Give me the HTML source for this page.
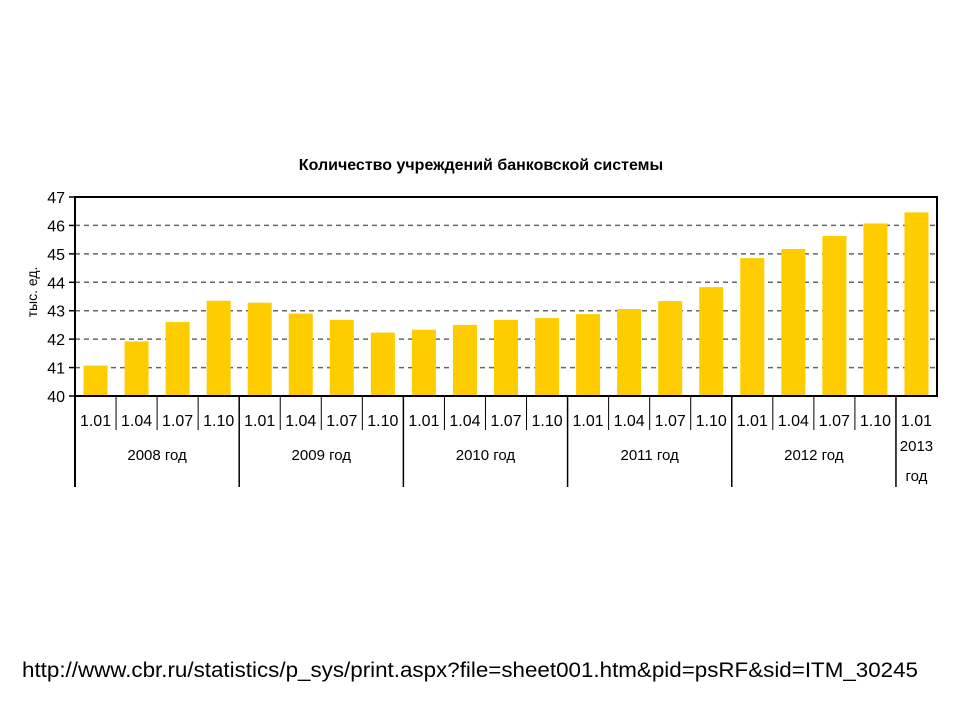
<!DOCTYPE html>
<html><head><meta charset="utf-8"><style>
body{margin:0;background:#fff;width:960px;height:720px;overflow:hidden;font-family:"Liberation Sans",sans-serif}
</style></head><body>
<svg width="960" height="720" xmlns="http://www.w3.org/2000/svg">
<text x="481" y="170" text-anchor="middle" font-size="16" font-weight="bold" font-family="Liberation Sans, sans-serif">Количество учреждений банковской системы</text>
<text transform="translate(37,292) rotate(-90)" text-anchor="middle" font-size="14" font-family="Liberation Sans, sans-serif">тыс. ед.</text>
<g id="grid"></g><g id="bars"></g><g id="axes"></g>
<text x="22" y="677" font-size="21" textLength="896" lengthAdjust="spacingAndGlyphs" font-family="Liberation Sans, sans-serif">http://www.cbr.ru/statistics/p_sys/print.aspx?file=sheet001.htm&amp;pid=psRF&amp;sid=ITM_30245</text>
</svg>
<script>
const categories=["1.01","1.04","1.07","1.10","1.01","1.04","1.07","1.10","1.01","1.04","1.07","1.10","1.01","1.04","1.07","1.10","1.01","1.04","1.07","1.10","1.01"];
const values=[41.07,41.92,42.6,43.35,43.28,42.9,42.68,42.23,42.33,42.5,42.68,42.74,42.88,43.06,43.34,43.83,44.85,45.17,45.63,46.07,46.46];
const years=["2008 год","2009 год","2010 год","2011 год","2012 год","2013 год"];
const yearStarts=[0,4,8,12,16,20];
const yTicks=[40,41,42,43,44,45,46,47];
const NS="http://www.w3.org/2000/svg";
const X0=75,X1=937,Y0=396,Y1=197,YMIN=40,YMAX=47;
const bw=(X1-X0)/categories.length;
const xs=i=>X0+bw*i, ys=v=>Y0-(v-YMIN)/(YMAX-YMIN)*(Y0-Y1);
function mk(t,a,p){const e=document.createElementNS(NS,t);for(const k in a)e.setAttribute(k,a[k]);p.appendChild(e);return e;}
const grid=document.getElementById('grid'),bars=document.getElementById('bars'),axes=document.getElementById('axes');
yTicks.forEach(v=>{
  if(v>YMIN&&v<YMAX){const l=mk('line',{x1:X0,x2:X1,y1:ys(v),y2:ys(v),stroke:'#666','stroke-width':1.5,'stroke-dasharray':'5,4'},grid);
  
  }
  mk('line',{x1:X0-6,x2:X0,y1:ys(v),y2:ys(v),stroke:'#000','stroke-width':1.5},axes);
  const t=mk('text',{x:X0-10,y:ys(v)+6,'text-anchor':'end','font-size':16,'font-family':'Liberation Sans, sans-serif'},axes);
  t.textContent=v;
  
  
});
values.forEach((v,i)=>{
  const r=mk('rect',{x:xs(i)+bw/2-12,y:ys(v),width:24,height:Y0-ys(v),fill:'#ffcc00'},bars);
  
  
});
mk('rect',{x:X0,y:Y1,width:X1-X0,height:Y0-Y1,fill:'none',stroke:'#000','stroke-width':2},axes);
mk('line',{x1:X0,x2:X0,y1:Y0,y2:487,stroke:'#000','stroke-width':2},axes);
categories.forEach((c,i)=>{
  const t=mk('text',{x:xs(i)+bw/2,y:426,'text-anchor':'middle','font-size':16,'font-family':'Liberation Sans, sans-serif'},axes);
  t.textContent=c;
  
  
  if(i>0&&!yearStarts.includes(i))mk('line',{x1:xs(i),x2:xs(i),y1:Y0,y2:430,stroke:'#000','stroke-width':1},axes);
});
yearStarts.forEach((s,k)=>{
  if(s>0)mk('line',{x1:xs(s),x2:xs(s),y1:Y0,y2:487,stroke:'#000','stroke-width':1.5},axes);
  const e=k<yearStarts.length-1?yearStarts[k+1]:categories.length;
  const cx=(xs(s)+xs(e))/2;
  if(e-s>1){const t=mk('text',{x:cx,y:460,'text-anchor':'middle','font-size':15,'font-family':'Liberation Sans, sans-serif'},axes);
    t.textContent=years[k];
    
    }
  else{const p=years[k].split(' ');
    p.forEach((w,j)=>{const t=mk('text',{x:cx,y:451+j*30,'text-anchor':'middle','font-size':15,'font-family':'Liberation Sans, sans-serif'},axes);
    t.textContent=w;
    
    });}
});
</script>
</body></html>
